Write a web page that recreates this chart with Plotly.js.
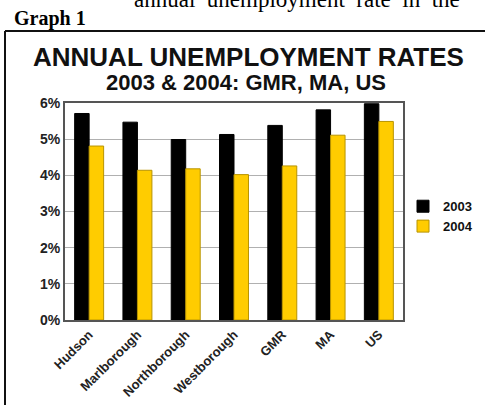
<!DOCTYPE html>
<html>
<head>
<meta charset="utf-8">
<script src="https://cdn.plot.ly/plotly-3.0.1.min.js"></script>
<style>html,body{margin:0;padding:0;background:#fff;}#chart{width:485px;height:405px;}</style>
</head>
<body>
<div id="chart"></div>
<script>
var categories = ["Hudson", "Marlborough", "Northborough", "Westborough", "GMR", "MA", "US"];
var rates2003 = [5.71, 5.47, 4.99, 5.13, 5.38, 5.81, 5.98];
var rates2004 = [4.81, 4.14, 4.18, 4.02, 4.26, 5.11, 5.49];
var seriesNames = ["2003", "2004"];
var yTicks = [0, 1, 2, 3, 4, 5, 6];
var yTickLabels = ["0%", "1%", "2%", "3%", "4%", "5%", "6%"];

var traces = [
  {type: "bar", name: seriesNames[0], x: categories, y: rates2003,
   marker: {color: "#000000", line: {color: "#000000", width: 1}}},
  {type: "bar", name: seriesNames[1], x: categories, y: rates2004,
   marker: {color: "#FFCC00", line: {color: "#B89400", width: 1}}}
];

var bold = "Liberation Sans, Arial, sans-serif";
var layout = {
  width: 485, height: 405,
  margin: {l: 65, r: 82, t: 103, b: 85, autoexpand: false},
  paper_bgcolor: "#ffffff", plot_bgcolor: "#ffffff",
  barmode: "group", bargap: 0.4, bargroupgap: 0,
  showlegend: true,
  legend: {x: 1.0, xanchor: "left", y: 0.478, yanchor: "middle",
           font: {family: bold, size: 13, color: "#111", weight: "bold"},
           tracegroupgap: 0, itemwidth: 30, bgcolor: "rgba(0,0,0,0)"},
  xaxis: {type: "category", tickangle: -45, showgrid: false, automargin: false,
          showline: true, linecolor: "#555", linewidth: 2, mirror: true,
          ticks: "", tickfont: {family: bold, size: 13, color: "#222", weight: "bold"}},
  yaxis: {range: [0, 6], tickvals: yTicks, ticktext: yTickLabels, automargin: false,
          showgrid: true, gridcolor: "#b0b0b0", gridwidth: 1,
          showline: true, linecolor: "#555", linewidth: 2, mirror: true,
          zeroline: false, ticks: "",
          tickfont: {family: bold, size: 14, color: "#222", weight: "bold"}},
  annotations: [
    {text: "ANNUAL UNEMPLOYMENT RATES", xref: "paper", yref: "paper",
     x: (248 - 65) / 338, y: (320 - 57) / 217, xanchor: "center", yanchor: "middle", showarrow: false,
     font: {family: bold, size: 26, color: "#111", weight: "bold"}},
    {text: "2003 & 2004: GMR, MA, US", xref: "paper", yref: "paper",
     x: (246 - 65) / 338, y: (320 - 83) / 217, xanchor: "center", yanchor: "middle", showarrow: false,
     font: {family: bold, size: 22, color: "#111", weight: "bold"}},
    {text: "Graph 1", xref: "paper", yref: "paper",
     x: (12 - 65) / 338, y: (320 - 19) / 217, xanchor: "left", yanchor: "middle", showarrow: false,
     font: {family: "Liberation Serif, Times New Roman, serif", size: 20, color: "#000", weight: "bold"}},
    {text: "annual\u00a0\u00a0unemployment\u00a0\u00a0rate\u00a0\u00a0in\u00a0\u00a0the", xref: "paper", yref: "paper",
     x: (462 - 65) / 338, y: (320 - 0) / 217, xanchor: "right", yanchor: "middle", showarrow: false,
     font: {family: "Liberation Serif, Times New Roman, serif", size: 23, color: "#000"}}
  ],
  shapes: [
    {type: "line", xref: "paper", yref: "paper", x0: (5 - 65) / 338, x1: 1.6,
     y0: (320 - 31) / 217, y1: (320 - 31) / 217, line: {color: "#111", width: 2}},
    {type: "line", xref: "paper", yref: "paper", x0: (5 - 65) / 338, x1: (5 - 65) / 338,
     y0: (320 - 31) / 217, y1: -0.6, line: {color: "#111", width: 2}}
  ]
};

Plotly.newPlot("chart", traces, layout, {displayModeBar: false, staticPlot: true});
</script>
</body>
</html>
